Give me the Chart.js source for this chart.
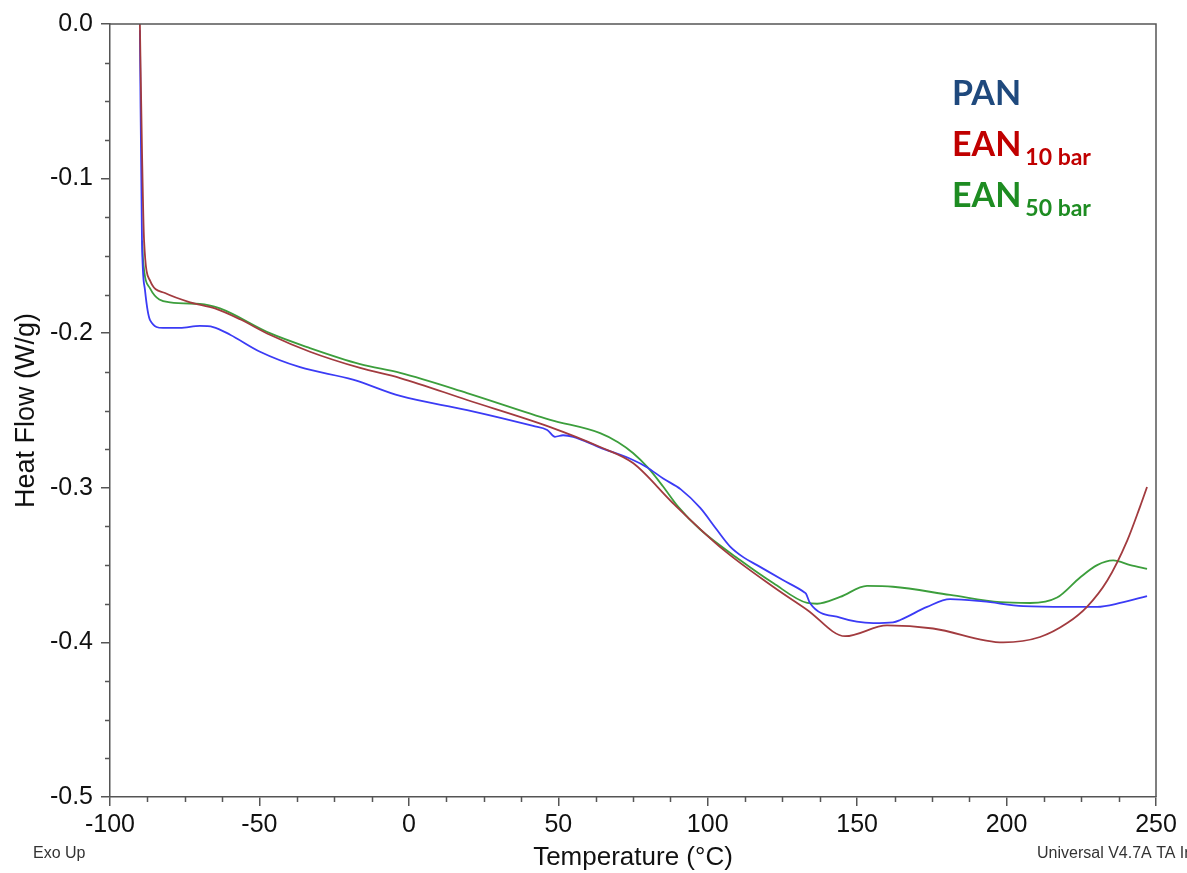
<!DOCTYPE html>
<html>
<head>
<meta charset="utf-8">
<title>DSC Heat Flow</title>
<script src="https://cdn.jsdelivr.net/npm/chart.js@4.4.1/dist/chart.umd.min.js"></script>
<style>
  html, body { margin: 0; padding: 0; background: #fff; overflow: hidden; }
  canvas { display: block; }
</style>
</head>
<body>
<canvas id="dsc" width="1187" height="873"></canvas>
<script>
// Temperature (°C) and heat flow (W/g) for each sample
const panTemp = [-90.0, -89.3, -88.3, -86.6, -82.3, -76.6, -69.9, -65.5, -59.8, -49.8, -36.4, -18.7, -2.9, 19.5, 41.6, 46.3, 48.9, 51.6, 55.0, 64.0, 75.0, 79.5, 85.1, 91.0, 97.5, 103.0, 107.5, 112.0, 116.5, 125.0, 132.3, 132.9, 134.2, 144.3, 155.4, 162.0, 164.4, 173.4, 181.1, 192.2, 205.6, 220.3, 230.3, 238.0, 247.0];
const panHeat = [-0.004, -0.140, -0.172, -0.1915, -0.1966, -0.1966, -0.1953, -0.196, -0.201, -0.212, -0.222, -0.230, -0.2406, -0.2497, -0.260, -0.2626, -0.267, -0.266, -0.267, -0.274, -0.282, -0.2865, -0.294, -0.301, -0.313, -0.327, -0.338, -0.345, -0.350, -0.3595, -0.3675, -0.3685, -0.3745, -0.384, -0.3875, -0.387, -0.3855, -0.377, -0.372, -0.3735, -0.3765, -0.377, -0.377, -0.3745, -0.370];

const ean10Temp = [-90.0, -89.3, -88.6, -86.6, -81.6, -73.2, -64.9, -56.5, -46.5, -33.1, -16.3, -2.9, 19.5, 47.3, 64.0, 75.0, 88.4, 105.2, 121.9, 133.3, 146.0, 160.0, 175.4, 198.9, 211.2, 220.3, 226.9, 233.7, 240.4, 244.7, 247.0];
const ean10Heat = [0.000, -0.0815, -0.140, -0.166, -0.174, -0.180, -0.184, -0.191, -0.201, -0.212, -0.2225, -0.229, -0.2432, -0.2607, -0.2736, -0.284, -0.310, -0.340, -0.364, -0.379, -0.396, -0.389, -0.391, -0.400, -0.3965, -0.3875, -0.377, -0.360, -0.334, -0.312, -0.2995];

const ean50Temp = [-89.2, -89.0, -86.6, -79.9, -69.9, -63.2, -46.5, -33.1, -16.3, -2.9, 19.5, 47.3, 64.0, 70.0, 75.0, 80.0, 85.0, 90.0, 97.5, 110.8, 121.9, 133.3, 136.6, 144.3, 153.3, 162.0, 181.1, 197.9, 207.9, 216.9, 224.6, 230.3, 235.7, 241.4, 247.0];
const ean50Heat = [-0.140, -0.151, -0.171, -0.180, -0.181, -0.184, -0.200, -0.2096, -0.220, -0.2257, -0.2387, -0.256, -0.2646, -0.2705, -0.2775, -0.287, -0.299, -0.312, -0.327, -0.3467, -0.3616, -0.3745, -0.375, -0.3706, -0.3635, -0.364, -0.3693, -0.374, -0.3745, -0.371, -0.358, -0.350, -0.347, -0.350, -0.3525];

const seriesNames = ['PAN', 'EAN10', 'EAN50'];
const xTicks = [-100, -50, 0, 50, 100, 150, 200, 250];
const yTicks = [0.0, -0.1, -0.2, -0.3, -0.4, -0.5];

const toPoints = (t, h) => t.map((x, i) => ({ x: x, y: h[i] }));

const AXIS = '#555555';
const FONT = '"Liberation Sans", Arial, sans-serif';

// minor ticks, plot frame, footer notes and sample labels
const decorations = {
  id: 'decorations',
  afterDraw(chart) {
    const { ctx, chartArea: a, scales: { x, y } } = chart;
    ctx.save();
    ctx.strokeStyle = AXIS;
    ctx.lineWidth = 1.5;
    ctx.beginPath();
    for (let v = -100; v <= 250; v += 12.5) {
      if (Math.abs(v % 50) < 1e-9) continue;
      const px = Math.round(x.getPixelForValue(v)) + 0.5;
      ctx.moveTo(px, a.bottom);
      ctx.lineTo(px, a.bottom + 5);
    }
    for (let k = 0; k <= 20; k++) {
      if (k % 4 === 0) continue;
      const py = Math.round(y.getPixelForValue(-k * 0.025)) + 0.5;
      ctx.moveTo(a.left, py);
      ctx.lineTo(a.left - 5, py);
    }
    ctx.stroke();
    ctx.beginPath();
    ctx.moveTo(a.left, a.top);
    ctx.lineTo(a.right, a.top);
    ctx.lineTo(a.right, a.bottom);
    ctx.stroke();

    ctx.fillStyle = '#333';
    ctx.font = '16px ' + FONT;
    ctx.textBaseline = 'alphabetic';
    ctx.textAlign = 'left';
    ctx.fillText('Exo Up', 33, 858);
    ctx.fillText('Universal V4.7A TA Instruments', 1037, 858);

    const drawLabel = (main, sub, color, x0, base) => {
      ctx.fillStyle = color;
      ctx.font = 'bold 34px Lato, "Open Sans", sans-serif';
      ctx.fillText(main, x0, base);
      if (sub) {
        const w = ctx.measureText(main).width;
        ctx.font = 'bold 23px Lato, "Open Sans", sans-serif';
        ctx.fillText(sub, x0 + w + 4, base + 9);
      }
    };
    drawLabel('PAN', '', '#1F497D', 952, 105);
    drawLabel('EAN', '10 bar', '#C00000', 952, 156);
    drawLabel('EAN', '50 bar', '#1E8C22', 952, 207);
    ctx.restore();
  }
};

const lineStyle = (color) => ({
  borderColor: color,
  backgroundColor: color,
  borderWidth: 1.8,
  pointRadius: 0,
  fill: false,
  cubicInterpolationMode: 'monotone'
});

new Chart(document.getElementById('dsc'), {
  type: 'line',
  data: {
    datasets: [
      Object.assign({ label: seriesNames[1], data: toPoints(ean10Temp, ean10Heat) }, lineStyle('#A23B3F')),
      Object.assign({ label: seriesNames[0], data: toPoints(panTemp, panHeat) }, lineStyle('#3B3BF5')),
      Object.assign({ label: seriesNames[2], data: toPoints(ean50Temp, ean50Heat) }, lineStyle('#3C9E3C'))
    ]
  },
  options: {
    responsive: false,
    maintainAspectRatio: false,
    animation: false,
    devicePixelRatio: 1,
    layout: { padding: { top: 24, right: 31, left: 0, bottom: 0 } },
    plugins: { legend: { display: false }, tooltip: { enabled: false } },
    scales: {
      x: {
        type: 'linear',
        min: -100, max: 250,
        afterFit: (s) => { s.height = 76; },
        afterBuildTicks: (s) => { s.ticks = xTicks.map(v => ({ value: v })); },
        grid: { display: true, drawOnChartArea: false, drawTicks: true, tickLength: 9, color: AXIS, lineWidth: 1.5 },
        border: { display: true, color: AXIS, width: 1.5 },
        ticks: {
          color: '#111', padding: 4, maxRotation: 0, autoSkip: false,
          font: { family: FONT, size: 25 },
          callback: (v) => String(v)
        },
        title: {
          display: true, text: 'Temperature (°C)', color: '#111',
          font: { family: FONT, size: 26 },
          padding: { top: 0, bottom: 0 }
        }
      },
      y: {
        type: 'linear',
        min: -0.5, max: 0,
        afterFit: (s) => { s.width = 110; },
        afterBuildTicks: (s) => { s.ticks = yTicks.map(v => ({ value: v })); },
        grid: { display: true, drawOnChartArea: false, drawTicks: true, tickLength: 9, color: AXIS, lineWidth: 1.5 },
        border: { display: true, color: AXIS, width: 1.5 },
        ticks: {
          color: '#111', padding: 8,
          font: { family: FONT, size: 25 },
          callback: (v) => (Math.abs(v) < 1e-9 ? 0 : v).toFixed(1)
        },
        title: {
          display: true, text: 'Heat Flow (W/g)', color: '#111',
          font: { family: FONT, size: 27 },
          padding: { top: 10, bottom: 0 }
        }
      }
    }
  },
  plugins: [decorations]
});
</script>
</body>
</html>
